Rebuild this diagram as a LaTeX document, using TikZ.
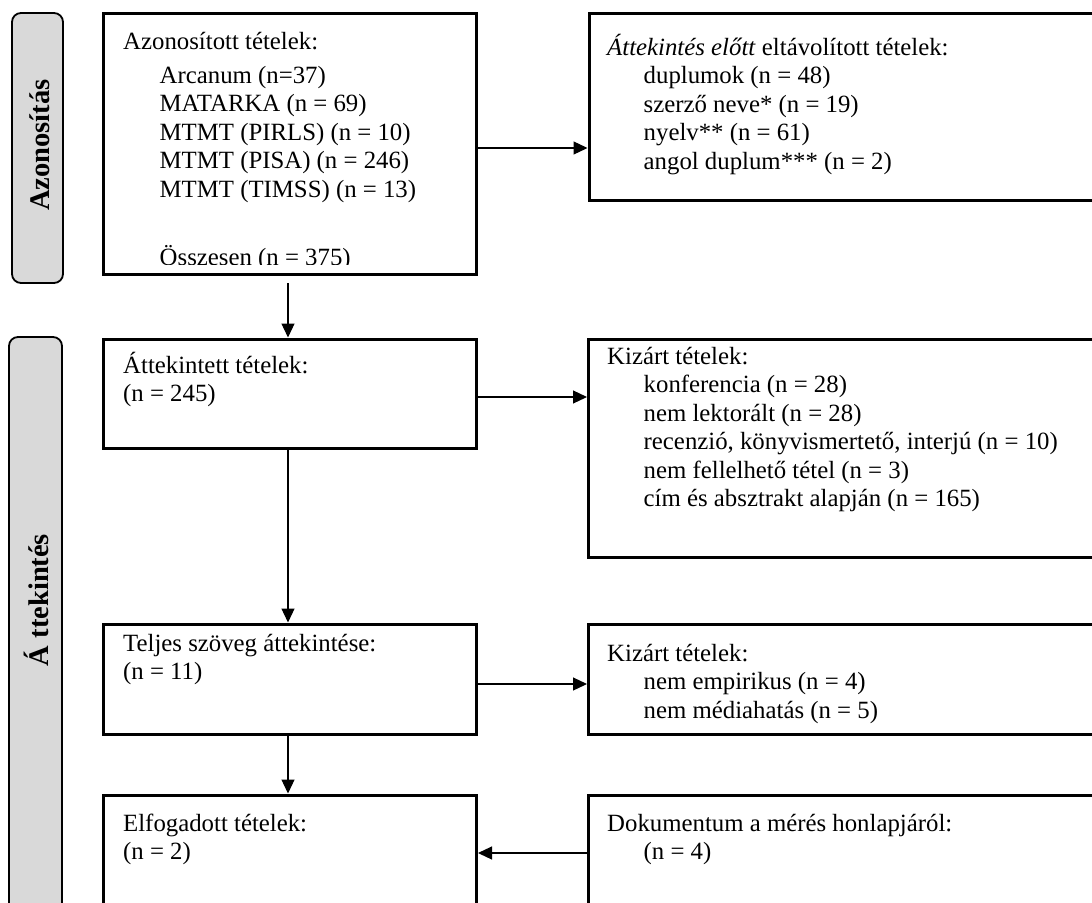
\documentclass[tikz,border=0pt]{standalone}
\usepackage{fontspec}
\setmainfont{Liberation Serif}
\usetikzlibrary{arrows.meta,fit}
\newcommand{\ind}{\hspace*{36.5pt}}
\begin{document}
\begin{tikzpicture}[x=1pt,y=-1pt,
  box/.style={draw, line width=3pt, inner sep=0pt},
  side/.style={draw, line width=1.8pt, rounded corners=9pt, fill=gray!30, inner sep=0pt},
  arr/.style={line width=1.2pt, -{Triangle[length=14pt,width=13pt]}},
  txt/.style={anchor=base west, inner sep=0pt, font=\fontsize{24.8}{28.5}\selectfont},
  lab/.style={rotate=90, inner sep=0pt, font=\fontsize{28.5}{30}\selectfont\bfseries}]
\useasboundingbox (0,0) rectangle (1092,902);
\begin{scope}
\clip (0,0) rectangle (1092,902);
% side bars
\node[side, fit={(12,13) (63,283)}] (s1) {};
\node[side, fit={(9,337) (62,960)}] (s2) {};
\node[lab] (l1) at (40,145) {Azonosítás};
\node[lab] (l2) at (36,600) {Á ttekintés};
% boxes
\node[box, fit={(103.5,13.5) (476.5,274)}] (b1) {};
\node[box, fit={(589,13.5) (1110,200)}] (b2) {};
\node[box, fit={(103.5,339) (476.5,448)}] (b3) {};
\node[box, fit={(588.5,339) (1110,557)}] (b4) {};
\node[box, fit={(103.5,624) (476.5,734)}] (b5) {};
\node[box, fit={(588.5,624) (1110,734)}] (b6) {};
\node[box, fit={(103.5,795) (476.5,960)}] (b7) {};
\node[box, fit={(588.5,795) (1110,960)}] (b8) {};
% texts
\begin{scope}
\clip (103.5,13.5) rectangle (476.5,264);
\node[txt] (t1) at (123,49) {\parbox[t]{340pt}{Azonosított tételek:\\[5.5pt]
\ind Arcanum (n=37)\\
\ind MATARKA (n = 69)\\
\ind MTMT (PIRLS) (n = 10)\\
\ind MTMT (PISA) (n = 246)\\
\ind MTMT (TIMSS) (n = 13)\\[40pt]
\ind Összesen (n = 375)}};
\end{scope}
\node[txt] (t2) at (607,55) {\parbox[t]{470pt}{\textit{Áttekintés előtt} eltávolított tételek:\\
\ind duplumok (n = 48)\\
\ind szerző neve* (n = 19)\\
\ind nyelv** (n = 61)\\
\ind angol duplum*** (n = 2)}};
\node[txt] (t3) at (123,373) {\parbox[t]{340pt}{Áttekintett tételek:\\
(n = 245)}};
\node[txt] (t4) at (607,364) {\parbox[t]{470pt}{Kizárt tételek:\\
\ind konferencia (n = 28)\\
\ind nem lektorált (n = 28)\\
\ind recenzió, könyvismertető, interjú (n = 10)\\
\ind nem fellelhető tétel (n = 3)\\
\ind cím és absztrakt alapján (n = 165)}};
\node[txt] (t5) at (123,651) {\parbox[t]{340pt}{Teljes szöveg áttekintése:\\
(n = 11)}};
\node[txt] (t6) at (607,661) {\parbox[t]{470pt}{Kizárt tételek:\\
\ind nem empirikus (n = 4)\\
\ind nem médiahatás (n = 5)}};
\node[txt] (t7) at (123,831) {\parbox[t]{340pt}{Elfogadott tételek:\\
(n = 2)}};
\node[txt] (t8) at (607,831) {\parbox[t]{470pt}{Dokumentum a mérés honlapjáról:\\
\ind (n = 4)}};
% connectors
\coordinate (c1) at (288,283);
\coordinate (r1) at (0,148);
\coordinate (r2) at (0,397);
\coordinate (r3) at (0,684);
\coordinate (r4) at (0,853);
\draw[arr] (b1.east |- r1) -- (b2.west |- r1);
\draw[arr] (c1) -- (c1 |- b3.north);
\draw[arr] (b3.east |- r2) -- (b4.west |- r2);
\draw[arr] (b3.south -| c1) -- (b5.north -| c1);
\draw[arr] (b5.east |- r3) -- (b6.west |- r3);
\draw[arr] (b5.south -| c1) -- (b7.north -| c1);
\draw[arr] (b8.west |- r4) -- (b7.east |- r4);
\end{scope}
\end{tikzpicture}
\end{document}
